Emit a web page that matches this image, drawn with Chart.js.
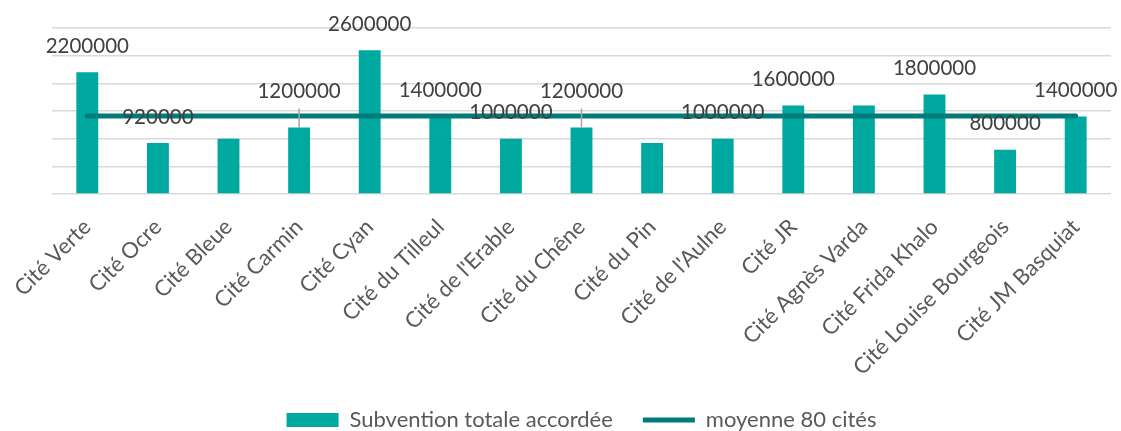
<!DOCTYPE html>
<html>
<head>
<meta charset="utf-8">
<script src="https://cdn.jsdelivr.net/npm/chart.js@4/dist/chart.umd.min.js"></script>
<style>
  html, body { margin: 0; padding: 0; background: #fff; }
  #wrap { width: 1121px; height: 431px; }
</style>
</head>
<body>
<div id="wrap"><canvas id="chart"></canvas></div>
<script>
const cites = [
  "Cité Verte", "Cité Ocre", "Cité Bleue", "Cité Carmin", "Cité Cyan",
  "Cité du Tilleul", "Cité de l'Erable", "Cité du Chêne", "Cité du Pin", "Cité de l'Aulne",
  "Cité JR", "Cité Agnès Varda", "Cité Frida Khalo", "Cité Louise Bourgeois", "Cité JM Basquiat",
];
const subventions = [
  2200000, 920000, 1000000, 1200000, 2600000,
  1400000, 1000000, 1200000, 920000, 1000000,
  1600000, 1600000, 1800000, 800000, 1400000,
];
// étiquettes affichées (certaines barres n'en ont pas)
const etiquettes = [
  "2200000", "920000", null, "1200000", "2600000",
  "1400000", "1000000", "1200000", null, "1000000",
  "1600000", null, "1800000", "800000", "1400000",
];
const moyenne = [
  1410000, 1410000, 1410000, 1410000, 1410000,
  1410000, 1410000, 1410000, 1410000, 1410000,
  1410000, 1410000, 1410000, 1410000, 1410000,
];
const yTicks = [0, 500000, 1000000, 1500000, 2000000, 2500000, 3000000];

const FONT = "Lato, 'Open Sans', sans-serif";
const withLeader = new Set([3, 7]);

const dataLabels = {
  id: "dataLabels",
  afterDatasetsDraw(chart) {
    const meta = chart.getDatasetMeta(0);
    const ctx = chart.ctx;
    ctx.save();
    ctx.font = "20.5px " + FONT;
    ctx.fillStyle = "#404040";
    ctx.textAlign = "center";
    ctx.textBaseline = "middle";
    meta.data.forEach((bar, i) => {
      const txt = etiquettes[i];
      if (!txt) return;
      const lift = withLeader.has(i) ? 36 : 26;
      if (withLeader.has(i)) {
        ctx.strokeStyle = "#a6a6a6";
        ctx.lineWidth = 1.5;
        ctx.beginPath();
        ctx.moveTo(bar.x, bar.y - lift + 17);
        ctx.lineTo(bar.x, bar.y);
        ctx.stroke();
      }
      ctx.fillText(txt, bar.x, bar.y - lift);
    });
    ctx.restore();
  },
};

new Chart(document.getElementById("chart").getContext("2d"), {
  type: "bar",
  data: {
    labels: cites,
    datasets: [
      {
        label: "Subvention totale accordée",
        data: subventions,
        backgroundColor: "#00a99f",
        borderWidth: 0,
        barPercentage: 0.62,
        categoryPercentage: 0.5,
        order: 1,
      },
      {
        type: "line",
        label: "moyenne 80 cités",
        data: moyenne,
        borderColor: "#007b79",
        backgroundColor: "#007b79",
        borderWidth: 5,
        borderCapStyle: "round",
        pointRadius: 0,
        pointHoverRadius: 0,
        order: 0,
      },
    ],
  },
  options: {
    responsive: true,
    maintainAspectRatio: false,
    animation: false,
    layout: { padding: { left: 52, right: 10, top: 28, bottom: -10 } },
    scales: {
      x: {
        grid: { display: false },
        border: { display: false },
        ticks: {
          color: "#595959",
          font: { family: FONT, size: 22 },
          maxRotation: 45,
          minRotation: 45,
          autoSkip: false,
          padding: 12,
        },
        afterFit: (s) => { s.height = 185; },
      },
      y: {
        min: 0,
        max: 3000000,
        afterBuildTicks: (s) => { s.ticks = yTicks.map((v) => ({ value: v })); },
        ticks: { display: false },
        grid: { color: "#d9d9d9", lineWidth: 1.5, drawTicks: false },
        border: { display: false },
        afterFit: (s) => { s.width = 0; },
      },
    },
    plugins: {
      tooltip: { enabled: false },
      legend: {
        position: "bottom",
        labels: {
          color: "#595959",
          font: { family: FONT, size: 22 },
          usePointStyle: true,
          pointStyleWidth: 52,
          boxHeight: 14,
          padding: 30,
          generateLabels(chart) {
            const items = Chart.defaults.plugins.legend.labels.generateLabels(chart);
            items.sort((a, b) => a.datasetIndex - b.datasetIndex);
            items.forEach((it) => { it.pointStyle = it.datasetIndex === 0 ? "rect" : "line"; });
            return items;
          },
        },
      },
    },
  },
  plugins: [dataLabels],
});
</script>
</body>
</html>
